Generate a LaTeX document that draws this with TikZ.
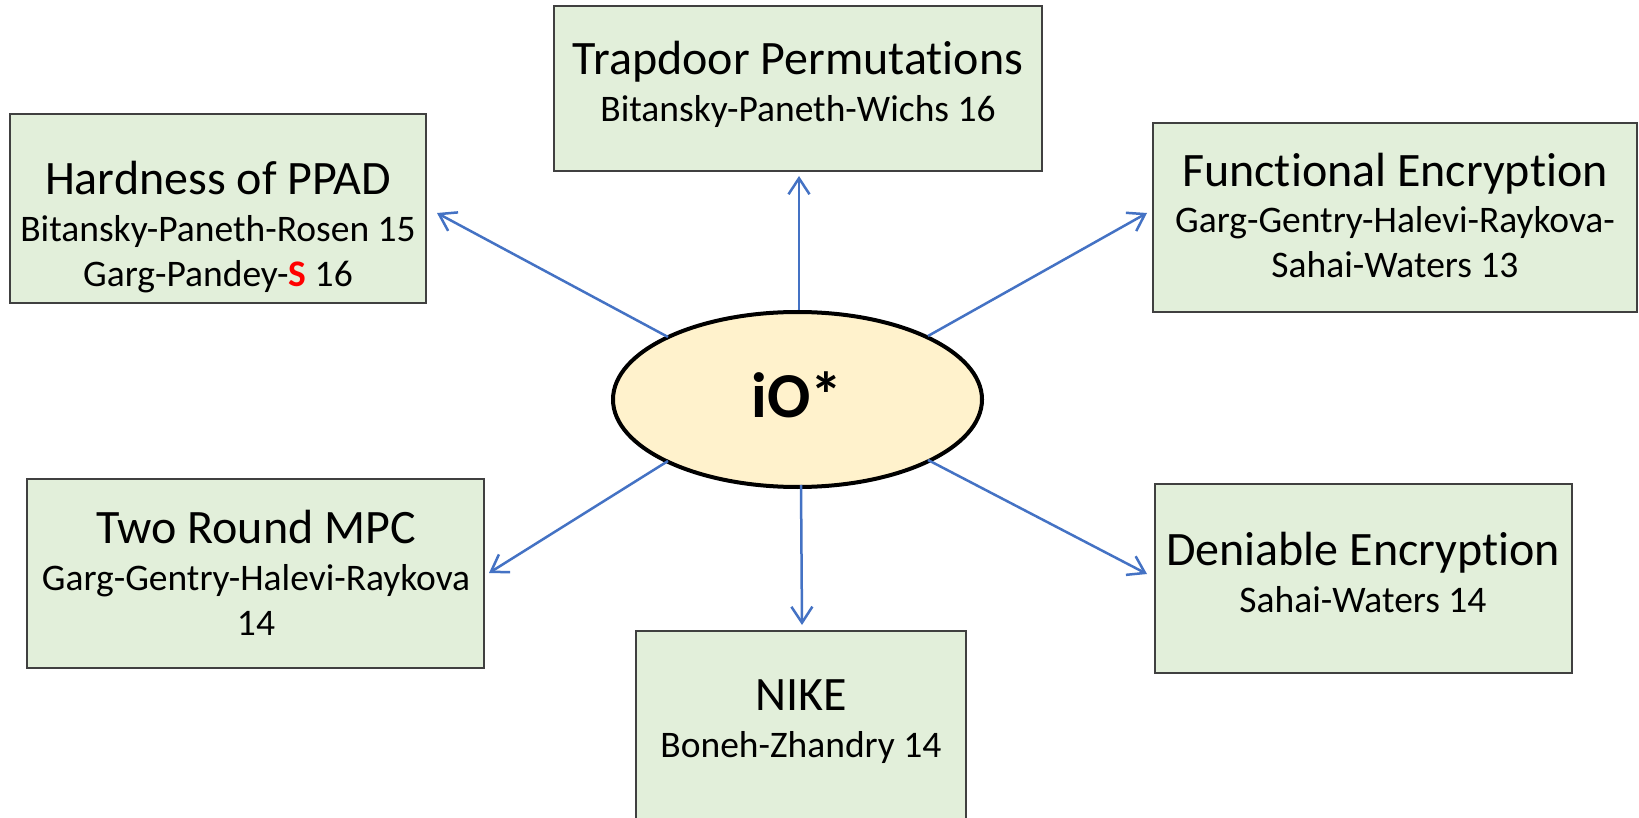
\documentclass[tikz,border=0pt]{standalone}
\usepackage{fontspec}
\setmainfont{Carlito}[Ligatures=NoCommon]
\usetikzlibrary{arrows.meta,shapes.geometric}
\definecolor{boxfill}{RGB}{226,239,218}
\definecolor{boxline}{RGB}{64,64,64}
\definecolor{ellfill}{RGB}{255,242,204}
\definecolor{arrblue}{RGB}{68,114,196}
\definecolor{accent}{RGB}{255,0,0}
\begin{document}
\begin{tikzpicture}[x=1pt,y=-1pt,
  card/.style={draw=boxline, line width=2pt, fill=boxfill, inner sep=0pt, rectangle},
  ttl/.style={anchor=base, font=\fontsize{48}{56}\selectfont, inner sep=0pt},
  cite/.style={anchor=base, font=\fontsize{37.5}{44}\selectfont, inner sep=0pt},
  link/.style={draw=arrblue, line width=2.5pt,
    -{Straight Barb[length=16pt,width=21pt,line width=2.5pt]}}]
\clip (0,0) rectangle (1639,818);
\fill[white] (0,0) rectangle (1639,818);

% result boxes
\node[card, minimum width=488, minimum height=165] (trap) at (798,88.5) {};
\node[card, minimum width=416, minimum height=189] (ppad) at (218,208.5) {};
\node[card, minimum width=484, minimum height=189] (fe)   at (1395,217.5) {};
\node[card, minimum width=457, minimum height=189] (mpc)  at (255.5,573.5) {};
\node[card, minimum width=417, minimum height=189] (den)  at (1363.5,578.5) {};
\node[card, minimum width=330, minimum height=209] (nike) at (801,735.5) {};

% box texts
\node[ttl]  (trapT) at (798,75)  {Trapdoor Permutations};
\node[cite] (trapA) at (798,122) {Bitansky-Paneth-Wichs 16};

\node[ttl]  (ppadT)  at (218,195) {Hardness of PPAD};
\node[cite] (ppadA)  at (218,242) {Bitansky-Paneth-Rosen 15};
\node[cite] (ppadB)  at (218,287) {Garg-Pandey-\textcolor{accent}{\textbf{S}} 16};

\node[ttl]  (feT)  at (1395,187) {Functional Encryption};
\node[cite] (feA)  at (1395,233) {Garg-Gentry-Halevi-Raykova-};
\node[cite] (feB)  at (1395,278) {Sahai-Waters 13};

\node[ttl]  (mpcT) at (256,543) {Two Round MPC};
\node[cite] (mpcA) at (256,590) {Garg-Gentry-Halevi-Raykova};
\node[cite] (mpcB) at (256,635) {14};

\node[ttl]  (denT) at (1363,565) {Deniable Encryption};
\node[cite] (denA) at (1363,612) {Sahai-Waters 14};

\node[ttl]  (nikeT) at (801,710) {NIKE};
\node[cite] (nikeA) at (801,757) {Boneh-Zhandry 14};

% central assumption
\node[ellipse, draw=black, line width=4pt, fill=ellfill, inner sep=0pt,
      minimum width=369, minimum height=175] (io) at (797.5,399.5) {};
\node[anchor=base, inner sep=0pt, font=\fontsize{64}{72}\selectfont\bfseries] (ioT) at (797,417) {iO*};

% arrow ends
\coordinate (sUp) at (799,310);  \coordinate (tUp) at (799,176);
\coordinate (sUL) at (668,337);  \coordinate (tUL) at (437,213);
\coordinate (sUR) at (928,336);  \coordinate (tUR) at (1147,213);
\coordinate (sLL) at (668,461);  \coordinate (tLL) at (489,573);
\coordinate (sLR) at (928,460);  \coordinate (tLR) at (1147,574);
\coordinate (sDn) at (801,485);  \coordinate (tDn) at (802,625);

\draw[link] (sUp) -- (tUp);
\draw[link] (sUL) -- (tUL);
\draw[link] (sUR) -- (tUR);
\draw[link] (sLL) -- (tLL);
\draw[link] (sLR) -- (tLR);
\draw[link] (sDn) -- (tDn);
\end{tikzpicture}
\end{document}
